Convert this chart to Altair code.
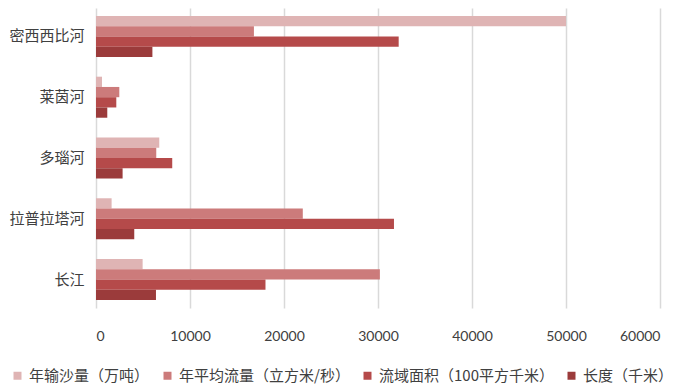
import altair as alt
import pandas as pd

rivers = ["密西西比河", "莱茵河", "多瑙河", "拉普拉塔河", "长江"]
series = ["年输沙量（万吨）", "年平均流量（立方米/秒）", "流域面积（100平方千米）", "长度（千米）"]
colors = ["#DFB4B4", "#CC7B7B", "#B54A4A", "#9B3B3B"]

sediment = [50000, 640, 6730, 1660, 4960]
discharge = [16800, 2480, 6410, 22000, 30200]
basin = [32200, 2160, 8110, 31700, 18030]
length = [6000, 1200, 2830, 4070, 6380]

values = [sediment, discharge, basin, length]
rows = []
for s, vals in zip(series, values):
    for r, v in zip(rivers, vals):
        rows.append({"river": r, "series": s, "value": v})
df = pd.DataFrame(rows)

chart = alt.Chart(df).mark_bar().encode(
    y=alt.Y("river:N", sort=rivers, title=None,
            scale=alt.Scale(paddingInner=0.325, paddingOuter=0.13)),
    yOffset=alt.YOffset("series:N", sort=series),
    x=alt.X("value:Q", title=None,
            scale=alt.Scale(domain=[0, 60000]),
            axis=alt.Axis(values=[0, 10000, 20000, 30000, 40000, 50000, 60000], format="d")),
    color=alt.Color("series:N", sort=series,
                    scale=alt.Scale(domain=series, range=colors),
                    legend=alt.Legend(title=None, orient="none", direction="horizontal",
                                      legendX=-86, legendY=360,
                                      symbolType="square", symbolSize=64,
                                      symbolStrokeWidth=0, labelLimit=400,
                                      labelFont="Noto Sans CJK SC", labelFontSize=15,
                                      labelColor="#404040", labelOffset=4,
                                      columnPadding=10)),
).properties(
    width=564, height=300,
    autosize=alt.AutoSizeParams(type="none"),
    padding={"left": 88, "top": 0, "right": 14, "bottom": 80},
).configure_view(stroke=None).configure_axisY(
    domain=False, ticks=False, grid=False, labelFont="Noto Sans CJK SC",
    labelFontSize=15, labelPadding=12, labelColor="#404040"
).configure_axisX(
    domain=False, ticks=False, grid=True, gridColor="#D9D9D9", gridWidth=1.5,
    labelFont="Lato", labelFontSize=14, labelPadding=21, labelColor="#404040"
)

chart.save("out.html", embed_options={"renderer": "svg", "actions": False})
